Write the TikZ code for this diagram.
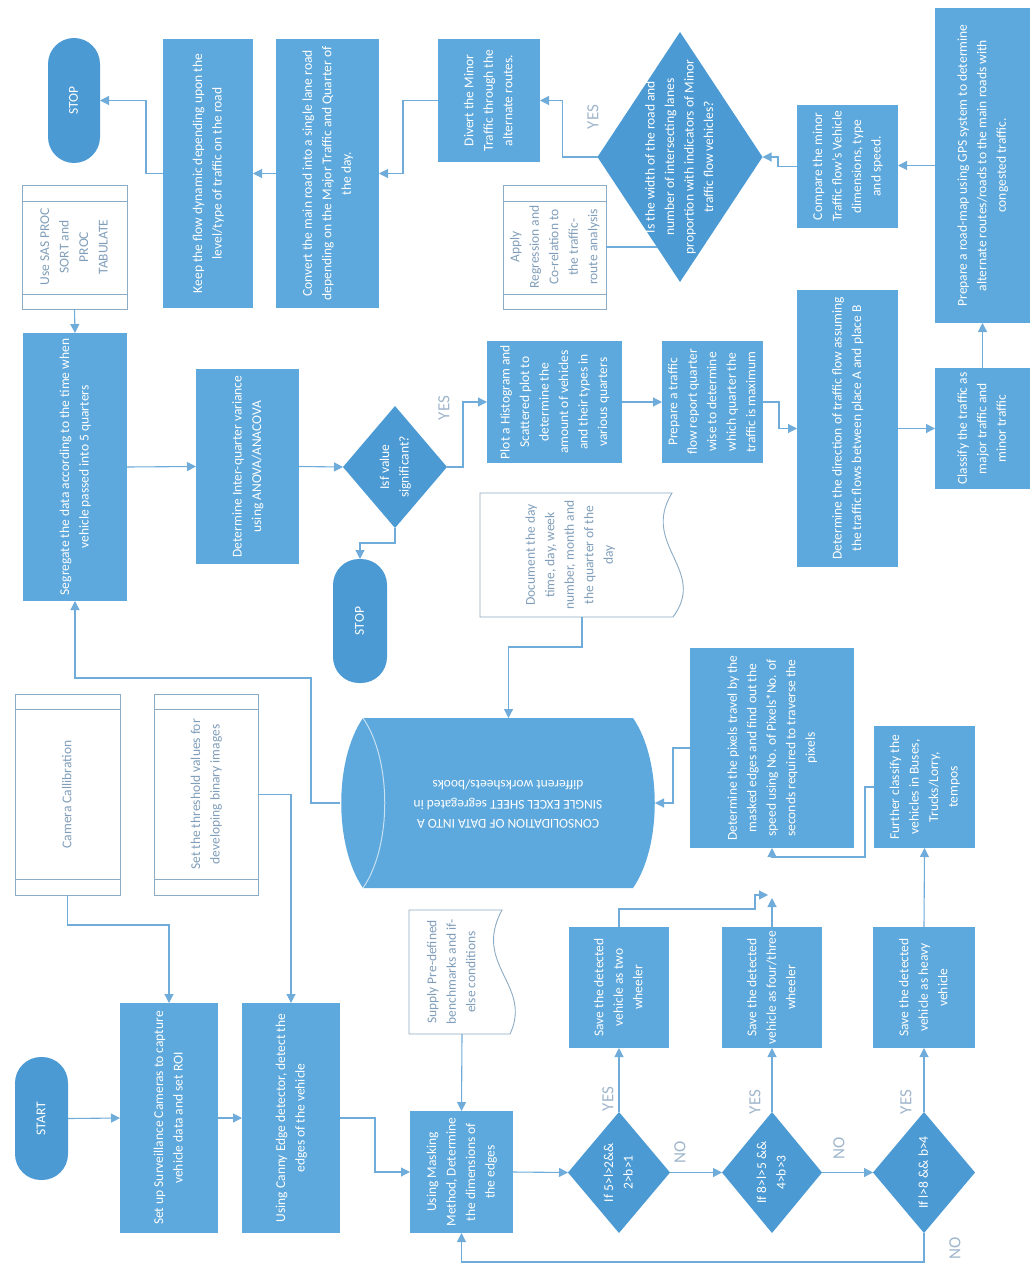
\documentclass[tikz,border=0pt]{standalone}
\usepackage{fontspec}
\setmainfont{Carlito}
\usetikzlibrary{shapes.geometric,arrows.meta}
\definecolor{bfill}{RGB}{93,168,220}
\definecolor{dfill}{RGB}{76,154,211}
\definecolor{lcol}{RGB}{112,172,218}
\definecolor{wline}{RGB}{140,172,198}
\definecolor{wtext}{RGB}{128,158,186}
\definecolor{lab}{RGB}{160,182,204}
\newcommand\vt[1]{\makebox[0pt]{\raisebox{-0.5\height}[0pt][0pt]{\rotatebox{90}{\begin{tabular}{@{}c@{}}#1\end{tabular}}}}}
\begin{document}
\begin{tikzpicture}[x=1pt,y=-1pt,
 base/.style={inner sep=0pt, outer sep=0pt, font=\fontsize{13.5}{19.5}\selectfont},
 box/.style={base, rectangle, fill=bfill, text=white},
 term/.style={base, rectangle, fill=dfill, text=white, rounded corners=26pt},
 dia/.style={base, diamond, fill=dfill, text=white},
 wbox/.style={base, rectangle, draw=wline, line width=0.9pt, fill=white, text=wtext},
 ghost/.style={base, rectangle, text=wtext},
 arr/.style={draw=lcol, line width=1.1pt, -{Triangle[length=9pt,width=9pt]}},
 ln/.style={draw=lcol, line width=1.1pt},
 yn/.style={inner sep=0pt, text=lab, font=\fontsize{17}{17}\selectfont, rotate=90},
]
\fill[white] (0,0) rectangle (1034,1265);
\useasboundingbox (0,0) rectangle (1034,1265);

% ---------- top row ----------
\node[term, minimum width=52pt, minimum height=125pt] (stop1) at (74,100.5) {\vt{STOP}};
\node[box, minimum width=90pt, minimum height=269pt] (keep) at (208,173.5) {\vt{Keep the flow dynamic depending upon the\\level/type of traffic on the road}};
\node[box, minimum width=103pt, minimum height=269pt] (convert) at (327.5,173.5) {\vt{Convert the main road into a single lane road\\depending on the Major Traffic and Quarter of\\the day.}};
\node[box, minimum width=102pt, minimum height=123pt] (divert) at (489,100.5) {\vt{Divert the Minor\\Traffic through the\\alternate routes.}};
\node[dia, minimum width=165pt, minimum height=250pt] (q1) at (680,157) {\vt{Is the width of the road and\\number of intersecting lanes\\proportion with indicators of Minor\\traffic flow vehicles?}};
\node[box, minimum width=101pt, minimum height=123pt] (compare) at (847.5,166.5) {\vt{Compare the minor\\Traffic flow's Vehicle\\dimensions, type\\and speed.}};
\node[box, minimum width=95pt, minimum height=315pt] (gps) at (982.5,165.5) {\vt{Prepare a road-map using GPS system to determine\\alternate routes/roads to the main roads with\\congested traffic.}};

\node[wbox, minimum width=105pt, minimum height=124pt] (sas) at (74.5,247) {\vt{Use SAS PROC\\SORT and\\PROC\\TABULATE}};
\draw[wline, line width=0.9pt] ([yshift=-16pt]sas.north west) -- ([yshift=-16pt]sas.north east);
\draw[wline, line width=0.9pt] ([yshift=15pt]sas.south west) -- ([yshift=15pt]sas.south east);
\node[wbox, minimum width=103pt, minimum height=124pt] (reg) at (554.5,247) {\vt{Apply\\Regression and\\Co-relation to\\the traffic-\\route analysis}};
\draw[wline, line width=0.9pt] ([yshift=-16pt]reg.north west) -- ([yshift=-16pt]reg.north east);
\draw[wline, line width=0.9pt] ([yshift=15pt]reg.south west) -- ([yshift=15pt]reg.south east);

% ---------- middle row ----------
\node[box, minimum width=104pt, minimum height=268pt] (seg) at (75,467) {\vt{Segregate the data according to the time when\\vehicle passed into 5 quarters}};
\node[box, minimum width=103pt, minimum height=195pt] (anova) at (247.5,466.5) {\vt{Determine Inter-quarter variance\\using ANOVA/ANACOVA}};
\node[dia, minimum width=104pt, minimum height=122pt] (q2) at (395,467) {\vt{Isf value\\significant?}};
\node[term, minimum width=54pt, minimum height=124pt] (stop2) at (360,621) {\vt{STOP}};
\node[box, minimum width=135pt, minimum height=122pt] (plot) at (554.5,402) {\vt{Plot a Histogram and\\Scattered plot to\\determine the\\amount of vehicles\\and their types in\\various quarters}};
\node[box, minimum width=101pt, minimum height=122pt] (report) at (712.5,402) {\vt{Prepare a traffic\\flow report quarter\\wise to determine\\which quarter the\\traffic is maximum}};
\node[box, minimum width=101pt, minimum height=277pt] (dir) at (847.5,428.5) {\vt{Determine the direction of traffic flow assuming\\the traffic flows between place A and place B}};
\node[box, minimum width=95pt, minimum height=121pt] (classify) at (982.5,428.5) {\vt{Classify the traffic as\\major traffic and\\minor traffic}};

% document shape
\filldraw[draw=wline, fill=white, line width=0.9pt] (480,493) -- (672,493) .. controls (640,545) and (708,570) .. (673,617) -- (480,617) -- cycle;
\node[ghost, minimum width=180pt, minimum height=124pt] (doc) at (570,555) {\vt{Document the day\\time, day, week\\number, month and\\the quarter of the\\day}};

% ---------- lower middle ----------
\node[wbox, minimum width=105pt, minimum height=201pt] (camera) at (67.5,794.5) {\vt{Camera Callibration}};
\draw[wline, line width=0.9pt] ([yshift=-15pt]camera.north west) -- ([yshift=-15pt]camera.north east);
\draw[wline, line width=0.9pt] ([yshift=16pt]camera.south west) -- ([yshift=16pt]camera.south east);
\node[wbox, minimum width=104pt, minimum height=201pt] (thresh) at (206,794.5) {\vt{Set the threshold values for\\developing binary images}};
\draw[wline, line width=0.9pt] ([yshift=-15pt]thresh.north west) -- ([yshift=-15pt]thresh.north east);
\draw[wline, line width=0.9pt] ([yshift=16pt]thresh.south west) -- ([yshift=16pt]thresh.south east);

% cylinder
\fill[bfill] (363,718) -- (633,718) .. controls (662,760) and (662,846) .. (633,888) -- (363,888) .. controls (334,846) and (334,760) .. (363,718) -- cycle;
\draw[white!65!bfill, line width=1pt] (363,718) .. controls (392,760) and (392,846) .. (363,888);
\node[base, rectangle, minimum width=315pt, minimum height=170pt] (cyl) at (497.5,803) {};
\node[base, text=white, rotate=180] (cyltxt) at (508,804) {\begin{tabular}{@{}c@{}}CONSOLIDATION OF DATA INTO A\\SINGLE EXCEL SHEET segregated in\\different worksheets/books\end{tabular}};

\node[box, minimum width=164pt, minimum height=200pt] (pixels) at (772,748) {\vt{Determine the pixels travel by the\\masked edges and find out the\\speed using No. of Pixels*No. of\\seconds required to traverse the\\pixels}};
\node[box, minimum width=101pt, minimum height=122pt] (further) at (924.5,787) {\vt{Further classify the\\vehicles in Buses,\\Trucks/Lorry,\\tempos}};

% ---------- bottom row ----------
\node[term, minimum width=53pt, minimum height=123pt] (start) at (41.5,1118.5) {\vt{START}};
\node[box, minimum width=98pt, minimum height=230pt] (setup) at (169,1118) {\vt{Set up Surveillance Cameras to capture\\vehicle data and set ROI}};
\node[box, minimum width=98pt, minimum height=230pt] (canny) at (291,1118) {\vt{Using Canny Edge detector, detect the\\edges of the vehicle}};
\filldraw[draw=wline, fill=white, line width=0.9pt] (409,910) -- (502,910) .. controls (472,965) and (533,985) .. (510,1034) -- (409,1034) -- cycle;
\node[ghost, minimum width=86pt, minimum height=124pt] (supply) at (452,972) {\vt{Supply Pre-defined\\benchmarks and if-\\else conditions}};
\node[box, minimum width=103pt, minimum height=122pt] (mask) at (461.5,1172) {\vt{Using Masking\\Method, Determine\\the dimensions of\\the edges}};
\node[dia, minimum width=102pt, minimum height=121pt] (d1) at (619,1172.5) {\vt{If 5>l>2\&\&\\2>b>1}};
\node[dia, minimum width=100pt, minimum height=121pt] (d2) at (772,1172.5) {\vt{If 8>l>5 \&\&\\4>b>3}};
\node[dia, minimum width=102pt, minimum height=121pt] (d3) at (924,1172.5) {\vt{If l>8 \&\& b>4}};
\node[box, minimum width=100pt, minimum height=121pt] (two) at (619,987.5) {\vt{Save the detected\\vehicle as two\\wheeler}};
\node[box, minimum width=100pt, minimum height=121pt] (four) at (772,987.5) {\vt{Save the detected\\vehicle as four/three\\wheeler}};
\node[box, minimum width=102pt, minimum height=121pt] (heavy) at (924,987.5) {\vt{Save the detected\\vehicle as heavy\\vehicle}};

% ---------- labels ----------
\node[yn] (y1) at (593,117) {YES};
\node[yn] (y2) at (444,408) {YES};
\node[yn] (y3) at (608,1099) {YES};
\node[yn] (n1) at (680,1152) {NO};
\node[yn] (y4) at (755,1102) {YES};
\node[yn] (n2) at (839,1148) {NO};
\node[yn] (y5) at (906,1102) {YES};
\node[yn] (n3) at (955,1248) {NO};

% ---------- connectors ----------
\coordinate (qr) at (657,247);
\coordinate (tip2) at (768,895);
\coordinate (tip4) at (772,898);

\draw[arr] (start.east) -- (setup.west);
\draw[arr] (setup.east) -- (canny.west);
\draw[arr] (canny.east) -- ++(35,0) |- (mask.west);
\draw[arr] ([xshift=10pt]supply.south) -- (mask.north);
\draw[arr] (mask.east) -- (d1.west);
\draw[arr] (d1.east) -- (d2.west);
\draw[arr] (d2.east) -- (d3.west);
\draw[arr] (d1.north) -- (two.south);
\draw[arr] (d2.north) -- (four.south);
\draw[arr] (d3.north) -- (heavy.south);
\draw[arr] (d3.south) -- ++(0,29) -| (mask.south);
\draw[arr] (camera.south) -- ++(0,30) -| (setup.north);
\draw[arr] (thresh.east) -| (canny.north);
\draw[arr] (two.north) -- ++(0,-18) -| ([xshift=-13pt]tip2) -- (tip2);
\draw[arr] (four.north) -- (tip4);
\draw[arr] (heavy.north) -- (further.south);
\draw[arr] (further.west) -- ++(-9,0) |- ([yshift=-9pt]pixels.south) -- (pixels.south);
\draw[arr] (pixels.west) -- ++(-17,0) |- (cyl.east);
\draw[arr] ([xshift=12pt]doc.south) -- ++(0,30) -| ([xshift=11pt]cyl.north);
\draw[arr] (cyl.west) -- ++(-29,0) -- ++(0,-125) -| (seg.south);
\draw[arr] (sas.south) -- (seg.north);
\draw[arr] (seg.east) -- (anova.west);
\draw[arr] (anova.east) -- (q2.west);
\draw[arr] (q2.east) -- ++(16,0) |- (plot.west);
\draw[arr] (q2.south) -- ++(0,15) -| (stop2.north);
\draw[arr] (plot.east) -- (report.west);
\draw[arr] (report.east) -- ++(16,0) |- (dir.west);
\draw[arr] (dir.east) -- (classify.west);
\draw[arr] (classify.north) -- (gps.south);
\draw[arr] (gps.west) -- (gps.west -| compare.east);
\draw[arr] (compare.west) -- ++(-19,0) |- (q1.east);
\draw[arr] (q1.west) -- ++(-35,0) |- (divert.east);
\draw[ln] (reg.east) -- (qr);
\draw[arr] (divert.west) -- ++(-35,0) |- (convert.east);
\draw[arr] (convert.west) -- (keep.east);
\draw[arr] (keep.west) -- ++(-17,0) |- (stop1.east);
\end{tikzpicture}
\end{document}
